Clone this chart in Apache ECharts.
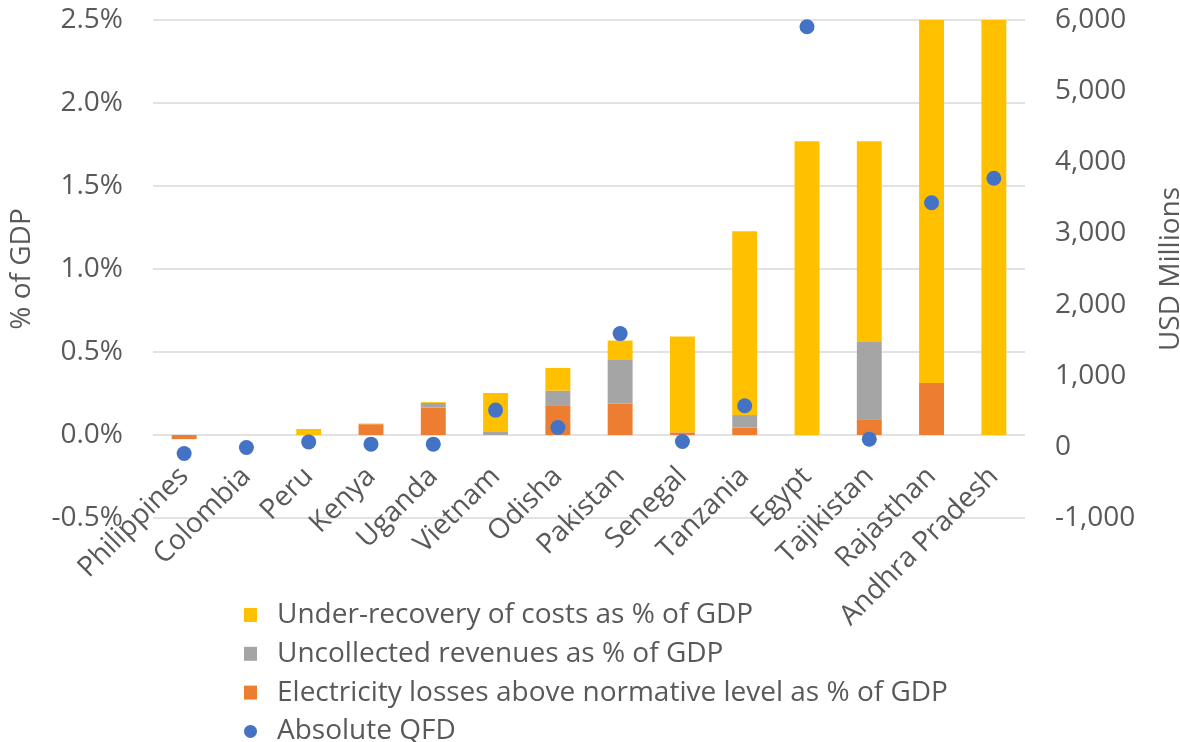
<!DOCTYPE html>
<html>
<head>
<meta charset="utf-8">
<script src="https://cdn.jsdelivr.net/npm/echarts@6/dist/echarts.min.js"></script>
<style>
  html, body { margin: 0; padding: 0; background: #fff; }
  #chart { width: 1180px; height: 742px; }
</style>
</head>
<body>
<div id="chart"></div>
<script>
// Categories along the horizontal axis
const regions = ['Philippines', 'Colombia', 'Peru', 'Kenya', 'Uganda', 'Vietnam', 'Odisha',
  'Pakistan', 'Senegal', 'Tanzania', 'Egypt', 'Tajikistan', 'Rajasthan', 'Andhra Pradesh'];

// Components of the quasi-fiscal deficit, % of GDP (stacked bars, left axis)
const lossesPct = [-0.025, 0, 0, 0.065, 0.165, 0, 0.175, 0.19, 0.016, 0.045, 0, 0.095, 0.313, 0];
const uncollectedPct = [0, 0, 0, 0, 0.028, 0.018, 0.092, 0.267, 0, 0.075, 0, 0.465, 0, 0];
const underRecoveryPct = [0, 0, 0.036, 0.004, 0.005, 0.235, 0.137, 0.112, 0.578, 1.108, 1.769, 1.21, 2.4, 2.8];

// Absolute QFD, USD millions (dots, right axis)
const absoluteQfd = [-94, -10, 70, 38, 38, 517, 272, 1592, 75, 577, 5906, 108, 3432, 3775];

// Left axis range (% of GDP) and right axis range (USD millions)
const pctMin = -0.5, pctMax = 2.5, pctStep = 0.5;
const usdMin = -1000, usdMax = 6000, usdStep = 1000;

// Series names as shown in the legend
const nameUnder = 'Under-recovery of costs as % of GDP';
const nameUncollected = 'Uncollected revenues as % of GDP';
const nameLosses = 'Electricity losses above normative level as % of GDP';
const nameQfd = 'Absolute QFD';

const textColor = '#595959';
const fontFamily = '"Open Sans", "Liberation Sans", sans-serif';
const fontSize = 28;

// Plot area
const gridTop = 20, gridBottom = 224, chartHeight = 742;
const plotHeight = chartHeight - gridTop - gridBottom;
// Category labels hang from the 0% line rather than from the bottom of the plot
const zeroLineOffset = -(0 - pctMin) / (pctMax - pctMin) * plotHeight;

const chart = echarts.init(document.getElementById('chart'), null, { renderer: 'canvas' });

chart.setOption({
  animation: false,
  backgroundColor: '#ffffff',
  textStyle: { fontFamily: fontFamily, color: textColor },
  grid: {
    left: 153, right: 155, top: gridTop, bottom: gridBottom,
    containLabel: false,
    outerBoundsMode: 'none'
  },
  legend: {
    orient: 'vertical',
    left: 244,
    top: 600,
    height: 170,
    padding: 0,
    itemGap: 8.8,
    itemWidth: 13,
    itemHeight: 14,
    textStyle: { fontSize: fontSize, color: textColor, fontFamily: fontFamily, lineHeight: 30, padding: [0, 0, 0, 15] },
    data: [
      { name: nameUnder, icon: 'rect' },
      { name: nameUncollected, icon: 'rect' },
      { name: nameLosses, icon: 'rect' },
      { name: nameQfd, icon: 'circle' }
    ]
  },
  xAxis: {
    type: 'category',
    data: regions,
    position: 'bottom',
    offset: zeroLineOffset,
    axisLine: { show: false, onZero: false },
    axisTick: { show: false },
    axisLabel: {
      rotate: 45,
      interval: 0,
      margin: 37,
      fontSize: fontSize,
      color: textColor,
      fontFamily: fontFamily
    }
  },
  yAxis: [
    {
      type: 'value',
      min: pctMin,
      max: pctMax,
      interval: pctStep,
      name: '% of GDP',
      nameLocation: 'middle',
      nameGap: 117,
      nameTextStyle: { fontSize: fontSize, color: textColor, fontFamily: fontFamily },
      axisLine: { show: false },
      axisTick: { show: false },
      splitLine: { show: true, lineStyle: { color: '#d9d9d9', width: 1.5 } },
      axisLabel: {
        margin: 30,
        fontSize: fontSize,
        color: textColor,
        fontFamily: fontFamily,
        formatter: function (v) { return v.toFixed(1) + '%'; }
      }
    },
    {
      type: 'value',
      position: 'right',
      min: usdMin,
      max: usdMax,
      interval: usdStep,
      name: 'USD Millions',
      nameLocation: 'middle',
      nameGap: 132,
      nameTextStyle: { fontSize: fontSize, color: textColor, fontFamily: fontFamily },
      axisLine: { show: false },
      axisTick: { show: false },
      splitLine: { show: false },
      axisLabel: {
        margin: 30,
        fontSize: fontSize,
        color: textColor,
        fontFamily: fontFamily,
        formatter: function (v) { return v.toLocaleString('en-US'); }
      }
    }
  ],
  series: [
    {
      name: nameLosses,
      type: 'bar',
      stack: 'qfd',
      yAxisIndex: 0,
      barWidth: '40%',
      itemStyle: { color: '#ED7D31' },
      data: lossesPct
    },
    {
      name: nameUncollected,
      type: 'bar',
      stack: 'qfd',
      yAxisIndex: 0,
      barWidth: '40%',
      itemStyle: { color: '#A5A5A5' },
      data: uncollectedPct
    },
    {
      name: nameUnder,
      type: 'bar',
      stack: 'qfd',
      yAxisIndex: 0,
      barWidth: '40%',
      itemStyle: { color: '#FFC000' },
      data: underRecoveryPct
    },
    {
      name: nameQfd,
      type: 'scatter',
      yAxisIndex: 1,
      symbol: 'circle',
      symbolSize: 15,
      itemStyle: { color: '#4472C4', opacity: 1 },
      data: absoluteQfd,
      z: 5
    }
  ]
});
</script>
</body>
</html>
